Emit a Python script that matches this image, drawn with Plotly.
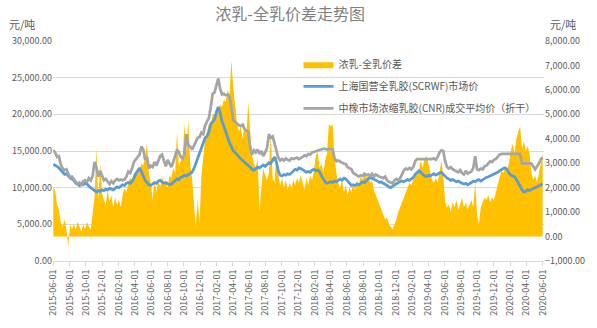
import pandas as pd
import plotly.graph_objects as go

# Weekly observations starting 2015-06-01
weeks = pd.date_range("2015-06-01", periods=262, freq="7D")

# 浓乳-全乳价差 (元/吨, right axis)
spread = [
    2000, 1900, 1300, 1100, 600, 400, 700, 300, -400, 500,
    300, 500, 300, 600, 400, 200, 500, 300, 600, 400,
    300, 1100, 1600, 3600, 1500, 3000, 1800, 1500, 1300, 1900,
    1400, 1700, 1200, 1600, 1300, 1500, 1200, 1700, 2000, 1800,
    2200, 2400, 2300, 2600, 2500, 2800, 2700, 3000, 2900, 3300,
    3800, 2600, 2200, 1500, 2300, 1800, 2400, 2000, 2500, 2100,
    2300, 2000, 2500, 2400, 2800, 2600, 4300, 2900, 3100, 3300,
    4600, 3400, 4800, 3000, 2400, 1200, 400, 1500, 600, 2500,
    3200, 4000, 4300, 4600, 4400, 5000, 5000, 5200, 5100, 5400,
    5300, 5600, 5500, 6000, 5800, 7200, 6100, 5200, 4600, 4300,
    4500, 4000, 4600, 4200, 5500, 4300, 3300, 3000, 2800, 3200,
    1000, 2000, 2800, 2500, 2300, 2600, 4200, 2400, 2200, 3400,
    2500, 2100, 2400, 2000, 2300, 1900, 2200, 2000, 2300, 2100,
    2400, 2200, 2500, 2200, 1900, 2400, 2100, 2500, 2300, 2700,
    3300, 3500, 2800, 3000, 2600, 3100, 3400, 4600, 4500, 4600,
    3200, 2600, 2200, 2000, 2300, 1800, 2100, 1700, 2000, 1800,
    2200, 1900, 2300, 2100, 2500, 2300, 2600, 2400, 2500, 2200,
    2300, 1900, 1700, 1500, 1300, 1100, 900, 700, 800, 500,
    400, 300, 500, 700, 1000, 1200, 1400, 1600, 1800, 2000,
    2200, 2100, 2400, 2600, 2500, 2700, 3100, 2800, 3200, 3300,
    3000, 2600, 2300, 2200, 2400, 2200, 2600, 3100, 2500, 1400,
    1200, 1300, 1000, 1400, 1200, 1500, 1100, 1300, 1600, 1200,
    1400, 1100, 1300, 1500, 1200, 2200, 900, 500, 1200, 1400,
    1600, 1500, 1700, 1400, 1600, 1500, 1800, 2000, 2400, 2700,
    2600, 2800, 2700, 3000, 3500, 3800, 3400, 4000, 4300, 4500,
    3600, 3900, 3500, 3700, 3400, 2600, 2300, 2500, 2200, 2600,
    3100, 3400,
]

# 上海国营全乳胶(SCRWF)市场价 (元/吨, left axis)
scrwf = [
    13200, 13100, 12900, 12700, 12400, 12000, 11800, 11900, 11600, 11300,
    11200, 11000, 10600, 10400, 10300, 10500, 10400, 10600, 10500, 10200,
    10000, 9800, 9500, 9400, 9600, 9500, 9700, 9600, 9800, 9700,
    9900, 9800, 9700, 9900, 10100, 10000, 10200, 10400, 10300, 10600,
    10700, 10600, 10900, 11300, 11900, 12400, 12700, 12200, 11600, 11000,
    10700, 10400, 10300, 10500, 10700, 10600, 10900, 11000, 10800, 10600,
    10700, 10500, 10400, 10500, 10700, 10900, 11200, 11100, 11400, 11500,
    11700, 11600, 11800, 12000, 12100, 12600, 13300, 13900, 14500, 15200,
    16100, 16800, 17000, 17600, 18700, 19000, 19300, 20300, 21000, 20200,
    19000, 18400, 17600, 16700, 16100, 15600, 15000, 14800, 14500, 14100,
    13900, 13700, 13500, 13300, 13000, 12800, 12500, 12400, 12600, 12800,
    12700, 12900, 13100, 12900, 13200, 13400, 13300, 13800, 14200, 13500,
    12300, 11700, 11600, 11800, 11700, 11900, 11800, 12000, 12300, 12500,
    12400, 12700, 12600, 12500, 12300, 12100, 12200, 12100, 12400, 12500,
    12300, 12400, 12200, 11600, 11200, 10800, 10600, 10700, 10800, 10700,
    10900, 10800, 11000, 11200, 11000, 11300, 11200, 10900, 10500, 10300,
    10400, 10300, 10500, 10400, 10600, 10800, 10700, 11000, 11200, 11400,
    11300, 11200, 11100, 10900, 10700, 10800, 10600, 10500, 10300, 10100,
    10000, 10200, 10400, 10500, 10700, 10800, 10900, 10800, 11000, 11100,
    11000, 11200, 11400, 11800, 12100, 12300, 12100, 11800, 11600, 11500,
    11700, 11600, 11800, 11900, 11700, 11900, 12000, 12100, 11800, 11500,
    11300, 11200, 11000, 11100, 10900, 10800, 10900, 10700, 10600, 10500,
    10600, 10400, 10500, 10700, 10900, 10800, 11000, 11100, 10900, 11100,
    11300, 11400, 11500, 11600, 11700, 11900, 12000, 12100, 12300, 12500,
    12600, 12700, 12500, 12000, 11700, 11600, 11500, 11100, 10700, 10200,
    9700, 9400, 9500, 9700, 9600, 9800, 9900, 10000, 10100, 10200,
    10400, 10500,
]

# 中橡市场浓缩乳胶(CNR)成交平均价（折干） (元/吨, left axis)
cnr = [
    15100, 14800, 14200, 14300, 13200, 12600, 12400, 12500, 11900, 11400,
    11500, 11100, 10800, 10500, 10700, 10400, 10900, 11000, 10800, 11300,
    11000, 11600, 13500, 12800, 11500, 12300, 11500, 11000, 11200, 10800,
    10500, 10900, 10600, 11000, 11200, 11000, 11100, 11000, 11100, 11500,
    12200, 12000, 12600, 13500, 13800, 14200, 14500, 15600, 15200, 13800,
    14200, 12600, 13000, 12800, 13500, 13000, 13800, 14300, 14500, 13500,
    12900, 13800, 13300, 12800, 13500, 14500, 15200, 14800, 14200, 14000,
    14600, 17300, 15800, 15600, 15200, 15700, 16200, 16800, 16900, 17500,
    17300, 18500, 19000, 19500, 21000, 22800, 23000, 24000, 24900, 23500,
    22700, 22800, 22600, 22700, 22400, 21000, 19200, 19000, 18700, 18500,
    18400, 18600, 18000, 17800, 17600, 15500, 14500, 15100, 14800, 15200,
    14600, 15000, 14300, 14800, 15400, 17300, 16800, 17000, 16000, 15200,
    14100, 13700, 13900, 13700, 14000, 13800, 13700, 14000, 13900, 14000,
    14100, 13900, 14000, 14200, 14400, 14300, 14600, 14500, 14800, 14900,
    15000, 15100, 15100, 15200, 15300, 15300, 15200, 15300, 15300, 15200,
    14000, 13600, 13700, 13500, 13400, 13300, 13200, 12800, 12600, 12500,
    12000, 11800, 11600, 11500, 11700, 11600, 11900, 11700, 11800, 11600,
    11900, 11500, 11800, 11600, 11500, 11400, 11300, 11500, 11000, 10800,
    10700, 10600, 11000, 11200, 11000, 11300, 11800, 12400, 12600, 12500,
    12700, 12500, 12800, 13600, 13900, 13900, 13900, 13900, 13900, 13800,
    13900, 13900, 13900, 14000, 13800, 14200, 14800, 15100, 15000, 13600,
    12800, 12600, 12800, 12500, 12400, 12200, 12100, 12400, 12000, 11800,
    12300, 11900, 12000, 12200, 12700, 14300, 12500, 12400, 12600, 12500,
    12900, 13000, 13300, 13600, 13500, 13800, 13900, 14200, 14500, 14600,
    14600, 14600, 14600, 14600, 14600, 14600, 14600, 14600, 14600, 14600,
    13300, 13300, 13300, 13300, 13300, 13300, 12900, 12500, 12900, 13300,
    13900, 14100,
]

# Category labels along the date axis (every two months)
tick_labels = [
    "2015-06-01", "2015-08-01", "2015-10-01", "2015-12-01",
    "2016-02-01", "2016-04-01", "2016-06-01", "2016-08-01", "2016-10-01", "2016-12-01",
    "2017-02-01", "2017-04-01", "2017-06-01", "2017-08-01", "2017-10-01", "2017-12-01",
    "2018-02-01", "2018-04-01", "2018-06-01", "2018-08-01", "2018-10-01", "2018-12-01",
    "2019-02-01", "2019-04-01", "2019-06-01", "2019-08-01", "2019-10-01", "2019-12-01",
    "2020-02-01", "2020-04-01", "2020-06-01",
]

FONT = "Noto Sans CJK SC, Liberation Sans, sans-serif"
TXT = "#595959"
GRID = "#d9d9d9"

fig = go.Figure()

# Spread as a filled area on the right-hand scale (primary y so lines sit on top)
fig.add_trace(go.Scatter(
    x=weeks, y=spread, name="浓乳-全乳价差",
    mode="lines", line=dict(width=0, color="#FFC000"),
    fill="tozeroy", fillcolor="#FFC000",
    yaxis="y", legendgroup="a",
))
fig.add_trace(go.Scatter(
    x=weeks, y=scrwf, name="上海国营全乳胶(SCRWF)市场价",
    mode="lines", line=dict(width=2.75, color="#5B9BD5"),
    yaxis="y2", legendgroup="b",
))
fig.add_trace(go.Scatter(
    x=weeks, y=cnr, name="中橡市场浓缩乳胶(CNR)成交平均价（折干）",
    mode="lines", line=dict(width=2.75, color="#A5A5A5"),
    yaxis="y2", legendgroup="c",
))

fig.update_layout(
    width=597, height=328,
    margin=dict(l=50, r=50, t=41, b=66),
    paper_bgcolor="white", plot_bgcolor="white",
    font=dict(family=FONT, size=9, color=TXT),
    title=dict(
        text="浓乳-全乳价差走势图",
        x=0.486, xanchor="center", y=0.955, yanchor="middle",
        font=dict(family=FONT, size=16, color="#7f7f7f"),
    ),
    showlegend=True,
    legend=dict(
        x=0.50, xanchor="left", y=0.96, yanchor="top",
        bgcolor="rgba(0,0,0,0)", borderwidth=0,
        font=dict(family=FONT, size=10, color=TXT),
        tracegroupgap=3,
    ),
    xaxis=dict(
        type="date",
        range=["2015-05-31", "2020-06-06"],
        tickvals=tick_labels, ticktext=tick_labels,
        tickangle=-90,
        showgrid=False, zeroline=False,
        showline=True, linecolor=GRID, linewidth=1,
        ticks="outside", ticklen=4, tickcolor=GRID,
        tickfont=dict(family=FONT, size=9, color=TXT),
    ),
    yaxis=dict(
        side="right",
        range=[-1000, 8000], dtick=1000, tickformat=",.2f",
        showgrid=False, zeroline=False, showline=False,
        tickfont=dict(family=FONT, size=9, color=TXT),
    ),
    yaxis2=dict(
        side="left", overlaying="y",
        range=[0, 30000], dtick=5000, tickformat=",.2f",
        showgrid=True, gridcolor=GRID, gridwidth=1,
        zeroline=False, showline=False,
        tickfont=dict(family=FONT, size=9, color=TXT),
    ),
    annotations=[
        dict(text="元/吨", xref="paper", yref="paper", x=-0.064, y=1.077,
             xanchor="center", yanchor="middle", showarrow=False,
             font=dict(family=FONT, size=11, color=TXT)),
        dict(text="元/吨", xref="paper", yref="paper", x=1.038, y=1.077,
             xanchor="center", yanchor="middle", showarrow=False,
             font=dict(family=FONT, size=11, color=TXT)),
    ],
)

fig.write_html("out.html")
